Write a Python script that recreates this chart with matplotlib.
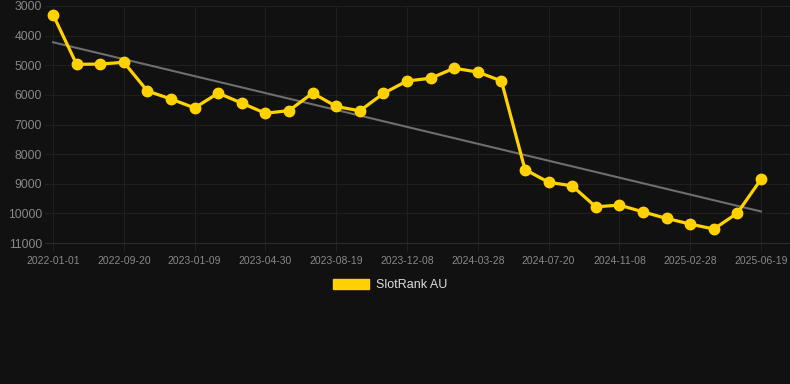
import numpy as np
import matplotlib
matplotlib.use("Agg")
import matplotlib.pyplot as plt
from matplotlib.patches import Patch

dates = ["2022-01-01", "2022-04-01", "2022-06-25", "2022-09-20", "2022-10-27",
         "2022-12-03", "2023-01-09", "2023-02-15", "2023-03-24", "2023-04-30",
         "2023-06-06", "2023-07-13", "2023-08-19", "2023-09-25", "2023-11-01",
         "2023-12-08", "2024-01-14", "2024-02-20", "2024-03-28", "2024-05-04",
         "2024-06-12", "2024-07-20", "2024-08-26", "2024-10-02", "2024-11-08",
         "2024-12-15", "2025-01-21", "2025-02-28", "2025-04-06", "2025-05-13",
         "2025-06-19"]
ranks = [3290, 4970, 4960, 4900, 5870, 6140, 6440, 5940, 6280, 6620,
         6530, 5940, 6390, 6540, 5950, 5530, 5440, 5100, 5230, 5530,
         8520, 8950, 9070, 9780, 9720, 9950, 10170, 10360, 10530, 9990,
         8850]
yticks = [3000, 4000, 5000, 6000, 7000, 8000, 9000, 10000, 11000]
series_name = "SlotRank AU"

plt.rcParams['font.family'] = ['Liberation Sans', 'DejaVu Sans']
bg = "#111111"
yellow = "#FFD200"

fig = plt.figure(figsize=(7.9, 3.84), dpi=100, facecolor=bg)
ax = fig.add_axes([45/790, 1 - 243/384, 1 - 45/790, (243 - 6)/384])
ax.set_facecolor(bg)

x = np.arange(len(ranks))
coef = np.polyfit(x, ranks, 1)
ax.plot(x, np.polyval(coef, x), color="#6e6e6e", lw=1.5, zorder=2)
ax.plot(x, ranks, color=yellow, lw=2.3, marker="o", ms=7.5, zorder=3)

ax.set_xlim(-0.34, 31.23)
ax.set_ylim(11000, 3000)
ax.set_yticks(yticks)
ax.set_yticklabels([str(v) for v in yticks])
tick_idx = list(range(0, len(dates), 3))
ax.set_xticks(tick_idx)
ax.set_xticklabels([dates[i] for i in tick_idx])

ax.grid(True, color="#1f1f1f", lw=0.8)
for s in ax.spines.values():
    s.set_visible(False)
ax.spines["bottom"].set_visible(True)
ax.spines["bottom"].set_color("#2a2a2a")
ax.spines["bottom"].set_linewidth(0.8)
ax.tick_params(axis="y", length=0, pad=2, labelsize=8.8, labelcolor="#888888")
ax.tick_params(axis="x", length=6, color="#222222", pad=3, labelsize=7.5, labelcolor="#888888")

leg = fig.legend(handles=[Patch(facecolor=yellow, edgecolor=yellow, label=series_name)],
                 loc="center", bbox_to_anchor=(390/790, 1 - 285/384), frameon=False,
                 handlelength=2.9, handleheight=0.9, handletextpad=0.5, fontsize=9)
for t in leg.get_texts():
    t.set_color("#dddddd")

fig.savefig("out.png", dpi=100, facecolor=bg)
